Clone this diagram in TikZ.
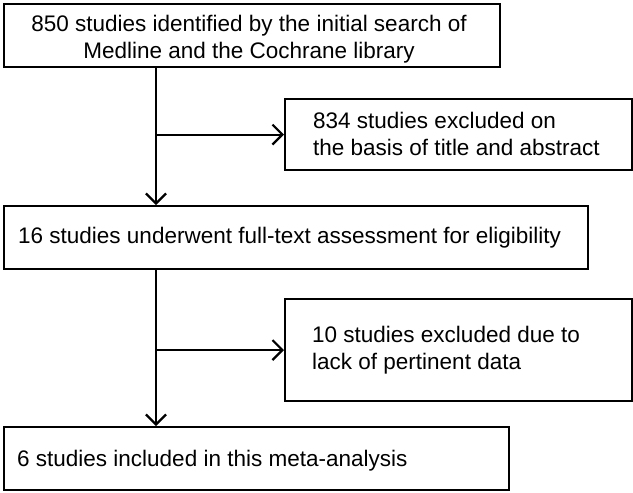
\documentclass[tikz,border=0pt]{standalone}
\usepackage{fontspec}
\setmainfont{Liberation Sans}
\usetikzlibrary{arrows.meta}
\begin{document}
\begin{tikzpicture}[x=1pt,y=-1pt,
  box/.style={draw=black, line width=2.2pt, inner sep=0pt, anchor=north west},
  txt/.style={font=\fontsize{22.5}{26.5}\selectfont, inner sep=0pt, text=black},
  arr/.style={draw=black, line width=2.2pt, -{Straight Barb[length=10pt,width=20pt,line width=2.2pt]}}]
\useasboundingbox (0,0) rectangle (633,493);
% boxes
\node[box, minimum width=496pt, minimum height=63pt] (b1) at (3,3) {};
\node[box, minimum width=347pt, minimum height=71pt] (ex1) at (284,98) {};
\node[box, minimum width=584pt, minimum height=63pt] (b3) at (3,205) {};
\node[box, minimum width=347pt, minimum height=102pt] (ex2) at (284,298) {};
\node[box, minimum width=505pt, minimum height=63pt] (b5) at (3,426) {};
% texts
\node[txt, align=center, anchor=north] (t1) at (249,15) {850 studies identified by the initial search of\\Medline and the Cochrane library};
\node[txt, align=left, anchor=north west] (t2) at (313,112) {834 studies excluded on\\the basis of title and abstract};
\node[txt, anchor=base west] (t3) at (18,243) {16 studies underwent full-text assessment for eligibility};
\node[txt, align=left, anchor=north west] (t4) at (312,326) {10 studies excluded due to\\lack of pertinent data};
\node[txt, anchor=base west] (t5) at (17,466) {6 studies included in this meta-analysis};
% connectors
\coordinate (spine) at (156,0);
\draw[arr] (b1.south -| spine) -- (b3.north -| spine);
\draw[arr] (b3.south -| spine) -- (b5.north -| spine);
\draw[arr] (ex1.west -| spine) -- (ex1.west);
\draw[arr] (ex2.west -| spine) -- (ex2.west);
\end{tikzpicture}
\end{document}
